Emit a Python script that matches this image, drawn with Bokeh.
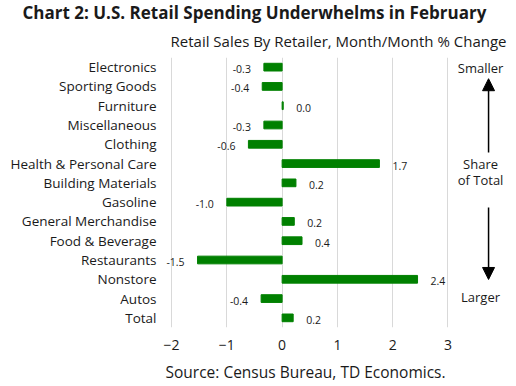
from bokeh.plotting import figure
from bokeh.models import (FactorRange, FixedTicker, Title, Arrow, NormalHead,
                          Range1d)
from bokeh.core.properties import value
from bokeh.embed import file_html
from bokeh.resources import INLINE

categories = ["Electronics", "Sporting Goods", "Furniture", "Miscellaneous",
              "Clothing", "Health & Personal Care", "Building Materials",
              "Gasoline", "General Merchandise", "Food & Beverage",
              "Restaurants", "Nonstore", "Autos", "Total"]
values = [-0.33, -0.36, 0.02, -0.33, -0.61, 1.76, 0.25, -1.0, 0.22, 0.36,
          -1.53, 2.45, -0.38, 0.2]
labels = ["-0.3", "-0.4", "0.0", "-0.3", "-0.6", "1.7", "0.2", "-1.0", "0.2",
          "0.4", "-1.5", "2.4", "-0.4", "0.2"]
x_ticks = [-2, -1, 0, 1, 2, 3]

FONT = "Open Sans"
TXT = "#1a1a1a"

p = figure(frame_width=346, frame_height=270, output_backend="svg",
           toolbar_location=None,
           y_range=FactorRange(factors=list(reversed(categories))),
           x_range=Range1d(-2.11, 4.15),
           min_border_left=165, min_border_right=0, min_border_top=0,
           min_border_bottom=0)
p.outline_line_color = None
p.background_fill_color = "white"
p.border_fill_color = "white"

p.hbar(y=categories, right=values, left=0, height=0.4, color="#008000")

pos = [(v, c, l) for v, c, l in zip(values, categories, labels) if v >= 0]
neg = [(v, c, l) for v, c, l in zip(values, categories, labels) if v < 0]
p.text(x=[a[0] for a in pos], y=[a[1] for a in pos], text=[a[2] for a in pos],
       x_offset=13, y_offset=2, text_align="left", text_baseline="middle",
       text_font=value(FONT), text_font_size="10.5px", text_color=TXT)
p.text(x=[a[0] for a in neg], y=[a[1] for a in neg], text=[a[2] for a in neg],
       x_offset=-13, y_offset=2, text_align="right", text_baseline="middle",
       text_font=value(FONT), text_font_size="10.5px", text_color=TXT)

# right-side annotation
p.text(x=[3.59, 3.59, 3.59, 3.59], y=[13.48, 8.5, 7.65, 1.6],
       text=["Smaller", "Share", "of Total", "Larger"],
       text_align="center", text_baseline="middle",
       text_font=value(FONT), text_font_size="13px", text_color=TXT)
p.add_layout(Arrow(x_start=3.735, y_start=9.07, x_end=3.735, y_end=12.9,
                   line_width=1.5, line_color="black",
                   end=NormalHead(size=12, fill_color="black", line_color="black")))
p.add_layout(Arrow(x_start=3.735, y_start=6.22, x_end=3.735, y_end=2.49,
                   line_width=1.5, line_color="black",
                   end=NormalHead(size=12, fill_color="black", line_color="black")))

# axes
p.xaxis.ticker = FixedTicker(ticks=x_ticks)
p.xaxis.axis_line_color = None
p.xaxis.major_tick_line_color = None
p.xaxis.minor_tick_line_color = None
p.xaxis.major_label_standoff = 6
p.xaxis.major_label_text_font = FONT
p.xaxis.major_label_text_font_size = "14px"
p.xaxis.major_label_text_color = TXT

p.yaxis.axis_line_color = None
p.yaxis.major_tick_line_color = None
p.yaxis.minor_tick_line_color = None
p.yaxis.major_label_standoff = 3
p.yaxis.major_label_text_font = FONT
p.yaxis.major_label_text_font_size = "13.5px"
p.yaxis.major_label_text_color = TXT

p.xgrid.ticker = FixedTicker(ticks=x_ticks)
p.xgrid.grid_line_color = "#d9d9d9"
p.ygrid.grid_line_color = None

# titles
p.add_layout(Title(text="Retail Sales By Retailer, Month/Month % Change",
                   align="right", offset=5, text_font=FONT,
                   text_font_size="15px", text_font_style="normal",
                   text_color=TXT, standoff=14), "above")
p.add_layout(Title(text="Chart 2: U.S. Retail Spending Underwhelms in February",
                   align="left", offset=-143, text_font=FONT,
                   text_font_size="17px", text_font_style="bold",
                   text_color=TXT, standoff=-4), "above")
p.add_layout(Title(text="Source: Census Bureau, TD Economics.",
                   align="left", offset=0, text_font=FONT,
                   text_font_size="15.5px", text_font_style="normal",
                   text_color=TXT, standoff=13), "below")

open("out.html", "w").write(file_html(p, INLINE))
